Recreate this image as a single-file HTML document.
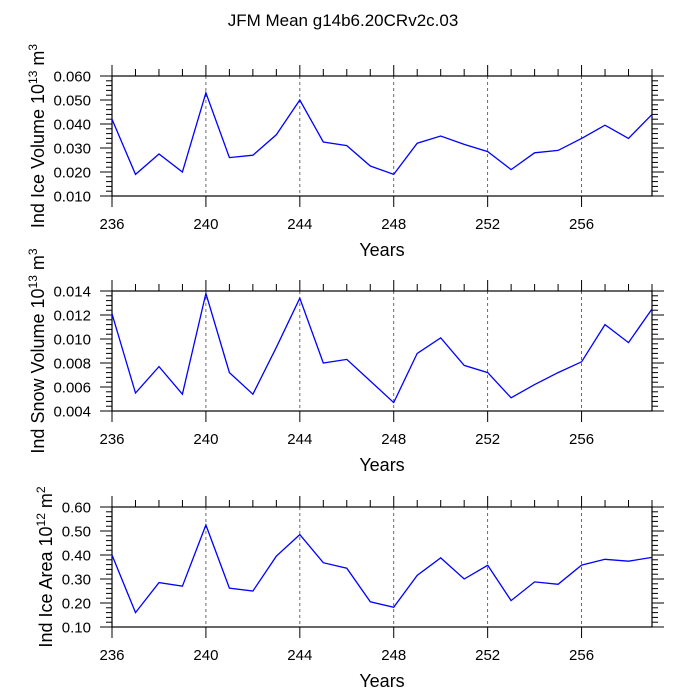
<!DOCTYPE html>
<html><head><meta charset="utf-8"><style>
body{margin:0;background:#fff;overflow:hidden}
text{font-family:"Liberation Sans",sans-serif;fill:#000}
</style></head><body>
<svg id="c" width="687" height="687" xmlns="http://www.w3.org/2000/svg">
<text x="343" y="26" text-anchor="middle" font-size="17">JFM Mean g14b6.20CRv2c.03</text>
</svg>
<script>
const years=[236,237,238,239,240,241,242,243,244,245,246,247,248,249,250,251,252,253,254,255,256,257,258,259];
const iceVolume=[0.042,0.019,0.0275,0.020,0.053,0.026,0.027,0.0355,0.050,0.0325,0.031,0.0225,0.019,0.032,0.035,0.0315,0.0285,0.021,0.028,0.029,0.034,0.0395,0.034,0.044];
const snowVolume=[0.0121,0.0055,0.0077,0.0054,0.0138,0.0072,0.0054,0.0093,0.0134,0.0080,0.0083,0.0065,0.0047,0.0088,0.0101,0.0078,0.0072,0.0051,0.0062,0.0072,0.0081,0.0112,0.0097,0.0125];
const iceArea=[0.40,0.16,0.285,0.27,0.525,0.262,0.25,0.395,0.485,0.368,0.345,0.205,0.182,0.315,0.388,0.30,0.357,0.21,0.288,0.278,0.358,0.382,0.374,0.39];
const xTicks=[236,240,244,248,252,256];
const iceVolTicks=["0.010","0.020","0.030","0.040","0.050","0.060"];
const snowVolTicks=["0.004","0.006","0.008","0.010","0.012","0.014"];
const iceAreaTicks=["0.10","0.20","0.30","0.40","0.50","0.60"];
const NS="http://www.w3.org/2000/svg";
const svg=document.getElementById('c');
function mk(tag,attrs,parent){const e=document.createElementNS(NS,tag);for(const k in attrs)e.setAttribute(k,attrs[k]);(parent||svg).appendChild(e);return e;}
const L=112,R=652;
function xs(v){return L+(v-236)/(259-236)*(R-L);}
function panel(top,vals,ticks,titleParts,key,titleX){
  const B=top+120;
  const y0=parseFloat(ticks[0]),y1=parseFloat(ticks[ticks.length-1]);
  const ys=v=>B-(v-y0)/(y1-y0)*(B-top);
  const g=mk('g',{});
  
  
  xTicks.forEach(t=>{if(t>236){const l=mk('line',{x1:xs(t),x2:xs(t),y1:top,y2:B,stroke:'#444','stroke-width':0.8,'stroke-dasharray':'3,3'},g);
    
    }});
  for(let yr=236;yr<=259;yr++){const maj=xTicks.includes(yr);const len=maj?11:7;
    mk('line',{x1:xs(yr),x2:xs(yr),y1:top,y2:top-len,stroke:'#000','stroke-width':1},g);
    if(maj)mk('line',{x1:xs(yr),x2:xs(yr),y1:B,y2:B+11,stroke:'#000','stroke-width':1},g);}
  const step=(y1-y0)/(ticks.length-1)/5;
  for(let i=0;i<=(ticks.length-1)*5;i++){const v=y0+i*step;const len=i%5==0?12:6;
    mk('line',{x1:L,x2:L-len,y1:ys(v),y2:ys(v),stroke:'#000','stroke-width':1},g);
    mk('line',{x1:R,x2:R+len,y1:ys(v),y2:ys(v),stroke:'#000','stroke-width':1},g);}
  ticks.forEach(t=>{const tx=mk('text',{x:L-21,y:ys(parseFloat(t))+5.5,'text-anchor':'end','font-size':15},g);tx.textContent=t;
    
    });
  xTicks.forEach(t=>{const tx=mk('text',{x:xs(t),y:B+33,'text-anchor':'middle','font-size':15},g);tx.textContent=t;
    
    });
  mk('rect',{x:L,y:top,width:R-L,height:B-top,fill:'none',stroke:'#000','stroke-width':1.2},g);
  const pts=vals.map((v,i)=>xs(years[i]).toFixed(1)+','+ys(v).toFixed(1)).join(' ');
  const pl=mk('polyline',{points:pts,fill:'none',stroke:'#0000ff','stroke-width':1.3},g);
  
  
  const xt=mk('text',{x:(L+R)/2,y:B+60,'text-anchor':'middle','font-size':18},g);xt.textContent='Years';
  
  
  const yt=mk('text',{transform:`translate(${titleX},${(top+B)/2}) rotate(-90)`,'text-anchor':'middle','font-size':18},g);
  yt.innerHTML=titleParts[0]+'<tspan dy="-7" font-size="12">'+titleParts[1]+'</tspan><tspan dy="7"> '+titleParts[2]+'</tspan><tspan dy="-7" font-size="12">'+titleParts[3]+'</tspan>';
  
  
}
panel(76,iceVolume,iceVolTicks,['Ind Ice Volume 10','13','m','3'],'ice-volume',44);
panel(291,snowVolume,snowVolTicks,['Ind Snow Volume 10','13','m','3'],'snow-volume',44);
panel(507,iceArea,iceAreaTicks,['Ind Ice Area 10','12','m','2'],'ice-area',52);
</script>
</body></html>
